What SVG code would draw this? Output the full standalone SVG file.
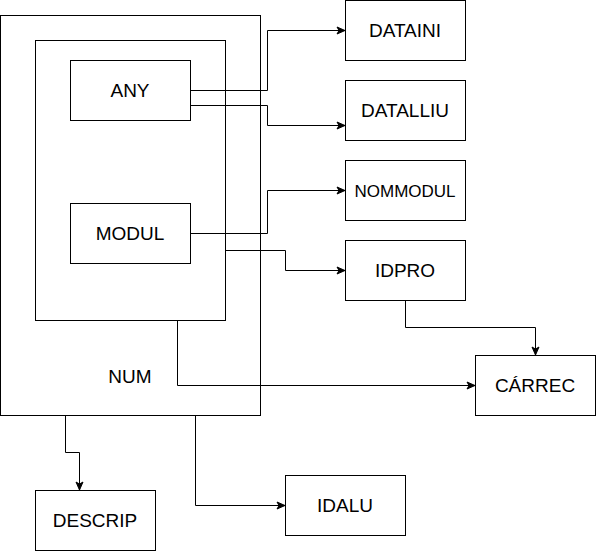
<svg xmlns="http://www.w3.org/2000/svg" width="596" height="551" viewBox="0 0 596 551">
<defs>
<marker id="arr" markerUnits="userSpaceOnUse" markerWidth="10" markerHeight="10" viewBox="0 0 10 10" refX="9" refY="5" orient="auto">
<path d="M1,1.5 L9,5 L1,8.5 L3,5 Z" fill="#000" stroke="#000" stroke-width="1"/>
</marker>
</defs>
<style>
rect{fill:#fff;stroke:#000;stroke-width:1}
text{font-family:"Liberation Sans",Arial,sans-serif;font-size:19px;fill:#000;text-anchor:middle}
.c path{fill:none;stroke:#000;stroke-width:1;marker-end:url(#arr)}
</style>
<g id="num"><rect x="0.5" y="15.5" width="260" height="400"/><text x="130" y="383">NUM</text></g>
<g id="inner"><rect x="35.5" y="40.5" width="190" height="280"/></g>
<g id="any"><rect x="70.5" y="60.5" width="120" height="60"/><text x="130" y="97">ANY</text></g>
<g id="modul"><rect x="70.5" y="203.5" width="120" height="60"/><text x="130" y="240">MODUL</text></g>
<g id="dataini"><rect x="345.5" y="0.5" width="120" height="60"/><text x="405" y="37">DATAINI</text></g>
<g id="datalliu"><rect x="345.5" y="80.5" width="120" height="60"/><text x="405" y="117">DATALLIU</text></g>
<g id="nommodul"><rect x="345.5" y="160.5" width="120" height="60"/><text x="405" y="196.5" style="font-size:17px">NOMMODUL</text></g>
<g id="idpro"><rect x="345.5" y="240.5" width="120" height="60"/><text x="405" y="277">IDPRO</text></g>
<g id="carrec"><rect x="475.5" y="355.5" width="120" height="60"/><text x="535" y="392">CÁRREC</text></g>
<g id="descrip"><rect x="35.5" y="490.5" width="120" height="60"/><text x="95" y="527">DESCRIP</text></g>
<g id="idalu"><rect x="285.5" y="475.5" width="120" height="60"/><text x="345" y="512">IDALU</text></g>
<g class="c" id="connectors">
<path d="M190.5,90.5 H267.5 V30.5 H345"/>
<path d="M190.5,105.5 H267.5 V125.5 H345"/>
<path d="M190.5,233.5 H267.5 V190.5 H345"/>
<path d="M225.5,250.5 H285.5 V270.5 H345"/>
<path d="M405.5,300.5 V327.5 H535.5 V355"/>
<path d="M177.5,320.5 V385.5 H475"/>
<path d="M65.5,415.5 V452.5 H79.5 V490"/>
<path d="M195.5,415.5 V505.5 H285"/>
</g>
</svg>
